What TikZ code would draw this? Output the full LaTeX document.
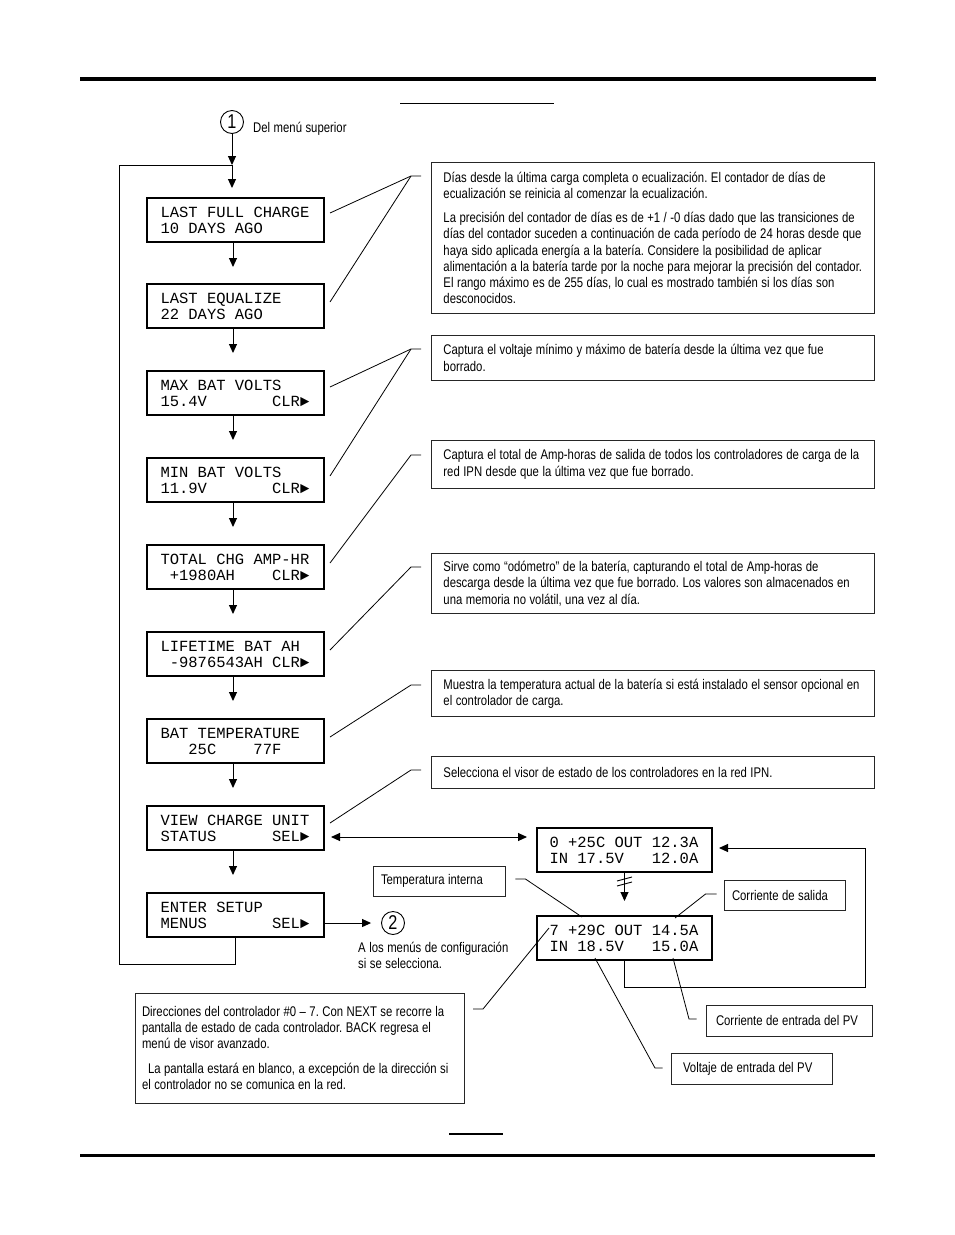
\documentclass[tikz,border=0pt]{standalone}
\usepackage{fontspec}
\setmainfont{Liberation Sans}[FakeStretch=0.81]
\setmonofont{Liberation Mono}
\usetikzlibrary{arrows.meta,calc}
\newcommand\lx[1]{\mbox{#1}}
\frenchspacing
\begin{document}
\begin{tikzpicture}[x=1pt,y=-1pt,
  lcd/.style={draw,line width=2pt,minimum width=177pt,minimum height=44pt,inner sep=0pt,text width=150pt,align=left,font=\fontsize{15.5}{16}\selectfont\ttfamily,execute at begin node={\spaceskip=9.3pt\xspaceskip=9.3pt\relax}},
  sans/.style={font=\fontsize{14}{16.3}\selectfont,execute at begin node={\spaceskip=3.5pt\xspaceskip=3.5pt\relax}},
  note/.style={sans,draw=black!85,line width=0.9pt,anchor=north west,inner xsep=12pt,inner ysep=0pt,text width=419pt,minimum width=443pt,align=left},
  lab/.style={sans,draw=black!85,line width=0.9pt,inner ysep=0pt,align=left},
  lead/.style={line width=0.8pt},
  wire/.style={line width=1pt},
  arr/.style={line width=1pt,-{Triangle[length=9pt,width=8pt]}},
  circ/.style={draw,circle,line width=0.9pt,minimum size=23pt,inner sep=0pt,font=\fontsize{20}{20}\selectfont},
  txt/.style={sans,inner sep=0pt,align=left,font=\fontsize{14}{16}\selectfont}
]
\useasboundingbox (0,0) rectangle (954,1235);

% page rules
\draw[line width=3.5pt] (80,79) -- (876,79);
\draw[line width=1pt] (400,103) -- (554,103);
\draw[line width=1.2pt] (449,1134) -- (503,1134);
\draw[line width=3pt] (80,1155) -- (875,1155);

% entry
\node[circ] (c1) at (232,122) {1};
\node[txt,anchor=west] (from) at (253,129) {Del menú superior};
\coordinate (j) at (232,165);

% menu displays
\node[lcd] (b1) at (235.5,220) {LAST FULL CHARGE\\10 DAYS AGO};
\node[lcd] (b2) at (235.5,306) {LAST EQUALIZE\\22 DAYS AGO};
\node[lcd] (b3) at (235.5,393) {MAX BAT VOLTS\\15.4V~~~~~~~CLR►};
\node[lcd] (b4) at (235.5,480) {MIN BAT VOLTS\\11.9V~~~~~~~CLR►};
\node[lcd] (b5) at (235.5,567) {TOTAL CHG AMP-HR\\~+1980AH~~~~CLR►};
\node[lcd] (b6) at (235.5,654) {LIFETIME BAT AH\\~-9876543AH~CLR►};
\node[lcd] (b7) at (235.5,741) {BAT TEMPERATURE\\~~~25C~~~~77F};
\node[lcd] (b8) at (235.5,828) {VIEW CHARGE UNIT\\STATUS~~~~~~SEL►};
\node[lcd] (b9) at (235.5,915) {ENTER SETUP\\MENUS~~~~~~~SEL►};

\draw[arr] (c1.south) -- (j);
\draw[arr] (j) -- (232,188);
\foreach \a in {b1,b2,b3,b4,b5,b6,b7,b8}
  \draw[arr] (\a.south -| 233,0) -- ++(0,24);
\draw[wire] (b9.south) -- (235.5,964) -- (119,964) -- (119,165) -- (j);

% setup exit
\node[circ] (c2) at (393,923) {2};
\draw[arr] ($(b9.east)+(0,8)$) -- ($(c2.west)+(-10,0)$);
\node[txt,anchor=north west] (c2t) at (358,942) {A los menús de configuración\\si se selecciona.};

% notes
\node[note,minimum height=151pt] (nA) at (431,162) {%
\lx{Días desde la última carga completa o ecualización. El contador de días de}\\
\lx{ecualización se reinicia al comenzar la ecualización.}\\[7.7pt]
\lx{La precisión del contador de días es de +1 / -0 días dado que las transiciones de}\\
\lx{días del contador suceden a continuación de cada período de 24 horas desde que}\\
\lx{haya sido aplicada energía a la batería. Considere la posibilidad de aplicar}\\
\lx{alimentación a la batería tarde por la noche para mejorar la precisión del contador.}\\
\lx{El rango máximo es de 255 días, lo cual es mostrado también si los días son}\\
\lx{desconocidos.}};
\node[note,minimum height=45pt] (nB) at (431,335) {%
\lx{Captura el voltaje mínimo y máximo de batería desde la última vez que fue}\\
\lx{borrado.}};
\node[note,minimum height=48pt] (nC) at (431,440) {%
\lx{Captura el total de Amp-horas de salida de todos los controladores de carga de la}\\
\lx{red IPN desde que la última vez que fue borrado.}};
\node[note,minimum height=60pt] (nD) at (431,553) {%
\lx{Sirve como “odómetro” de la batería, capturando el total de Amp-horas de}\\
\lx{descarga desde la última vez que fue borrado. Los valores son almacenados en}\\
\lx{una memoria no volátil, una vez al día.}};
\node[note,minimum height=46pt] (nE) at (431,670) {%
\lx{Muestra la temperatura actual de la batería si está instalado el sensor opcional en}\\
\lx{el controlador de carga.}};
\node[note,minimum height=32pt] (nF) at (431,756) {%
\lx{Selecciona el visor de estado de los controladores en la red IPN.}};

% note leaders
\coordinate (pA) at (411,176);
\coordinate (pB) at (411,349);
\coordinate (pC) at (411,455);
\coordinate (pD) at (411,567);
\coordinate (pE) at (411,685);
\coordinate (pF) at (411,770);
\draw[lead] ($(b1.east)+(5,-7)$) -- (pA) -- ++(10,0);
\draw[lead] ($(b2.east)+(5,-4)$) -- (pA);
\draw[lead] ($(b3.east)+(5,-6)$) -- (pB) -- ++(10,0);
\draw[lead] ($(b4.east)+(5,-4)$) -- (pB);
\draw[lead] ($(b5.east)+(5,-4)$) -- (pC) -- ++(10,0);
\draw[lead] ($(b6.east)+(5,-4)$) -- (pD) -- ++(10,0);
\draw[lead] ($(b7.east)+(5,-4)$) -- (pE) -- ++(10,0);
\draw[lead] ($(b8.east)+(5,-5)$) -- (pF) -- ++(10,0);

% status displays
\node[lcd,minimum width=175pt] (s1) at (624.5,850) {0 +25C OUT 12.3A\\IN 17.5V~~~12.0A};
\node[lcd,minimum width=175pt] (s2) at (624.5,938) {7 +29C OUT 14.5A\\IN 18.5V~~~15.0A};

\draw[line width=1pt,{Triangle[length=9pt,width=8pt]}-{Triangle[length=9pt,width=8pt]}]
  ($(b8.east)+(6,9)$) -- ($(s1.west)+(-9,-13)$);
\draw[arr] (s1.south) -- ($(s2.north)+(0,-14)$);
\draw[line width=0.9pt] (617,881) -- (632,877);
\draw[line width=0.9pt] (617,886) -- (632,882);
\draw[arr] (s2.south) -- (624.5,987) -- (865,987) -- (865,848) -- ($(s1.east)+(6,-2)$);

% status labels
\node[lab,minimum width=132pt,minimum height=30pt,inner xsep=8pt,text width=116pt] (tInt) at (439,881) {\lx{Temperatura interna}};
\node[lab,minimum width=121pt,minimum height=30pt,inner xsep=8pt,text width=105pt] (cSal) at (784.5,895) {\lx{Corriente de salida}};
\node[lab,minimum width=166pt,minimum height=31pt,inner xsep=10pt,text width=146pt] (cEnt) at (789,1020.5) {\lx{Corriente de entrada del PV}};
\node[lab,minimum width=161pt,minimum height=31pt,inner xsep=12pt,text width=137pt] (vEnt) at (751.5,1068.5) {\lx{Voltaje de entrada del PV}};
\node[lab,minimum width=329pt,minimum height=110pt,inner xsep=7pt,text width=315pt] (dir) at (299.5,1048) {%
\lx{Direcciones del controlador \#0 – 7. Con NEXT se recorre la}\\
\lx{pantalla de estado de cada controlador. BACK regresa el}\\
\lx{menú de visor avanzado.}\\[8.5pt]
\lx{\hspace{6pt}La pantalla estará en blanco, a excepción de la dirección si}\\
\lx{el controlador no se comunica en la red.}};

\draw[lead] ($(tInt.east)+(10,-2)$) -- ++(10,0) -- (582,917);
\draw[lead] ($(cSal.west)+(-7,-1)$) -- ++(-11,0) -- (675,918);
\draw[lead] (673,958) -- (689,1019) -- ($(cEnt.west)+(-9,-1.5)$);
\draw[lead] (595,958) -- (655,1068) -- ($(vEnt.west)+(-8,-0.5)$);
\draw[lead] (549,928) -- (483,1009) -- ++(-10,0);
\end{tikzpicture}
\end{document}
